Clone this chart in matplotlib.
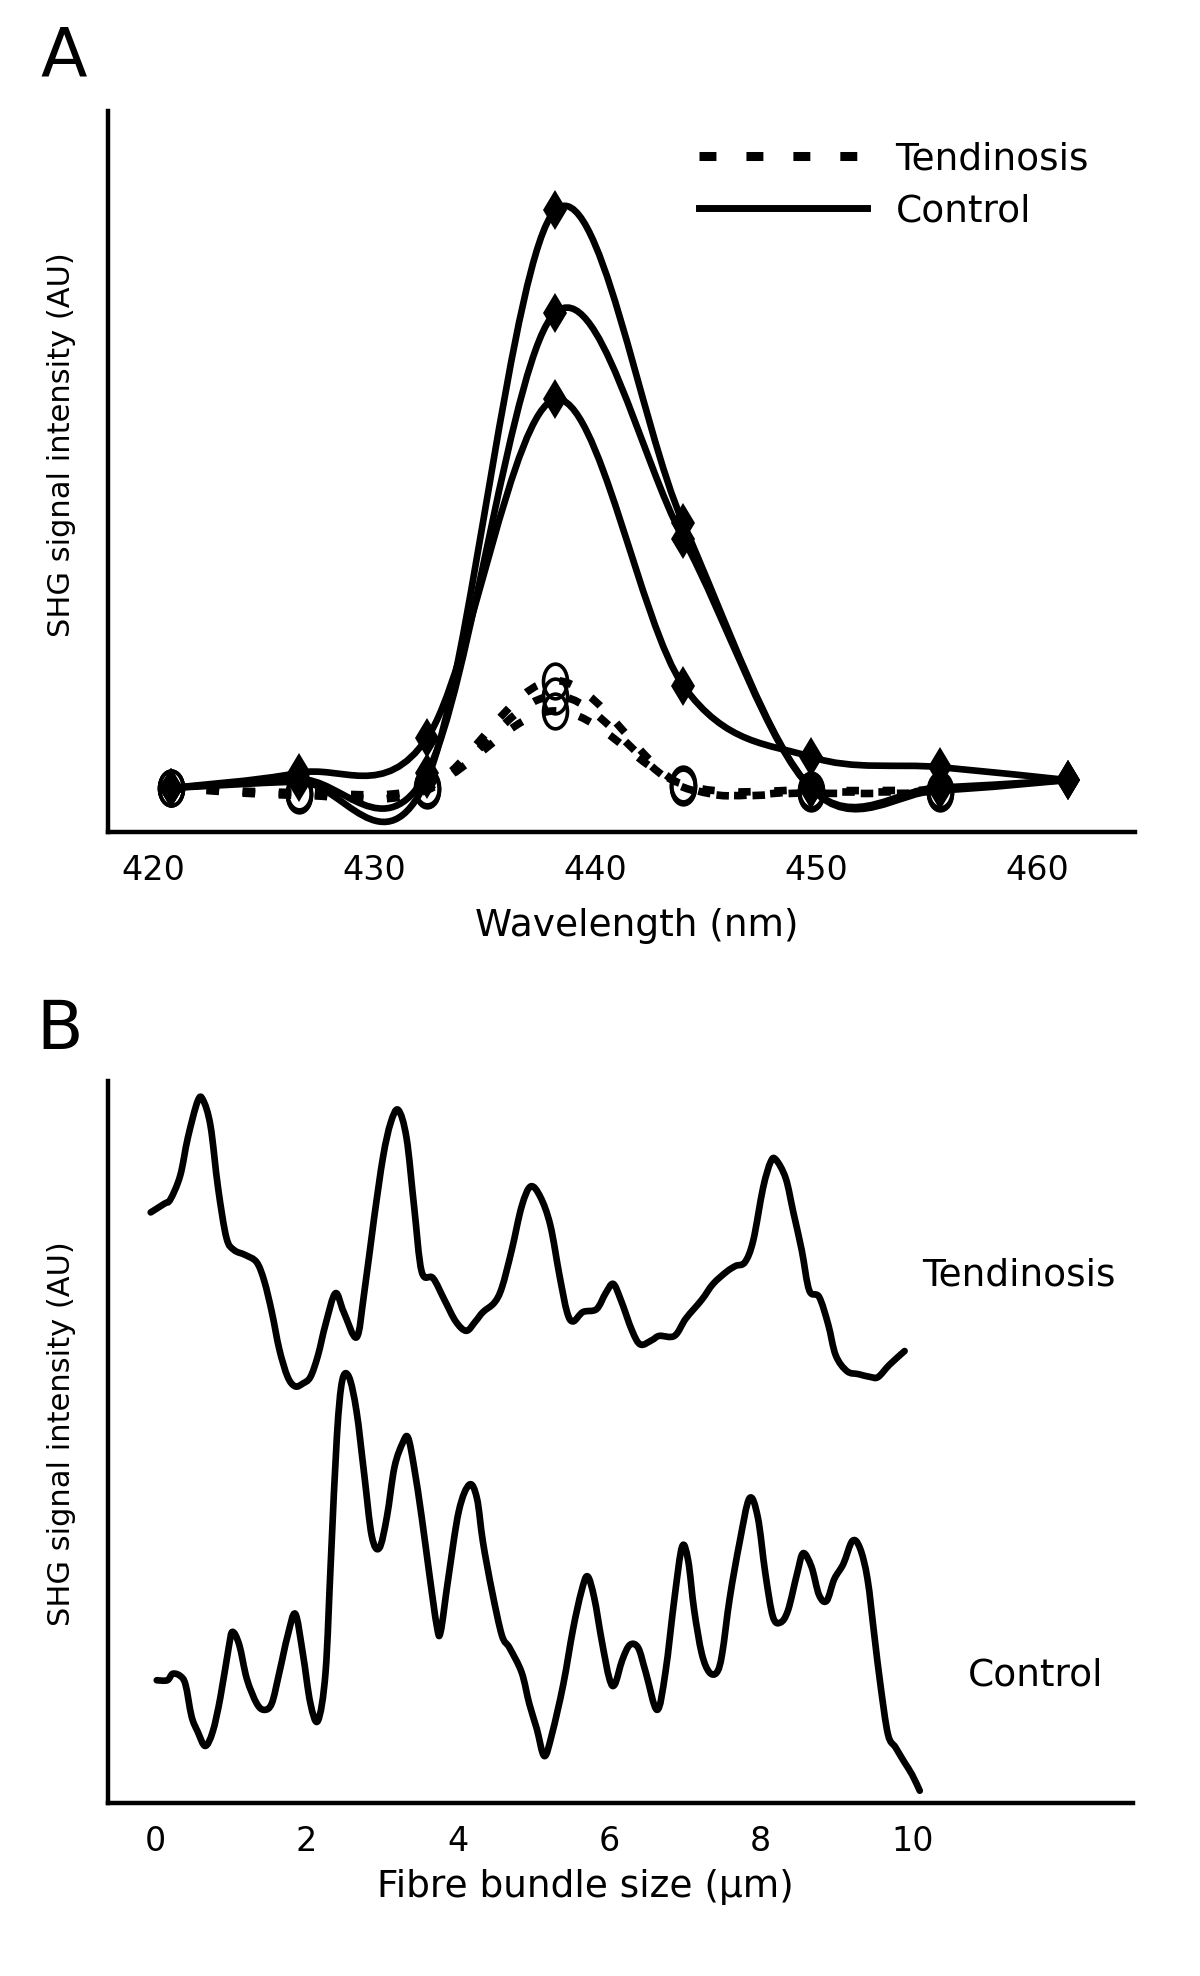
import numpy as np
import matplotlib
matplotlib.use("Agg")
import matplotlib.pyplot as plt
from matplotlib.path import Path
from matplotlib.patches import PathPatch
from matplotlib.lines import Line2D
from matplotlib.transforms import Affine2D

plt.rcParams['font.family'] = ['DejaVu Sans']
plt.rcParams['lines.scale_dashes'] = False

# ---------------- Panel A data ----------------
wavelength = [420.8, 426.6, 432.4, 438.2, 444.0, 449.8, 455.6, 461.4]
control_1 = [6.1, 7.0, 7.3, 86.2, 42.8, 6.0, 5.8, 7.2]
control_2 = [6.1, 7.3, 8.2, 72.0, 40.7, 6.0, 6.2, 7.2]
control_3 = [6.1, 8.2, 13.0, 60.0, 20.3, 10.4, 9.0, 7.2]
tend_wavelength = [420.8, 426.6, 432.4, 438.2, 444.0, 449.8, 455.6]
tendinosis_1 = [6.1, 5.1, 6.0, 21.0, 6.4, 5.6, 5.6]
tendinosis_2 = [6.1, 5.3, 5.8, 18.9, 6.2, 5.4, 5.4]
tendinosis_3 = [6.1, 5.5, 6.2, 16.8, 6.6, 5.8, 5.8]
a_ticks = [420, 430, 440, 450, 460]

# ---------------- Panel B data ----------------
tend_x = [-0.06, 0.12, 0.20, 0.33, 0.43, 0.56, 0.63, 0.73, 0.83, 0.94,
          1.04, 1.19, 1.34, 1.44, 1.54, 1.64, 1.75, 1.85, 1.95, 2.05,
          2.15, 2.25, 2.38, 2.49, 2.66, 2.76, 2.89, 3.01, 3.11, 3.21,
          3.32, 3.42, 3.52, 3.67, 3.82, 3.97, 4.11, 4.23, 4.33, 4.48,
          4.58, 4.71, 4.84, 4.96, 5.09, 5.22, 5.34, 5.44, 5.52, 5.65,
          5.83, 5.95, 6.05, 6.15, 6.30, 6.41, 6.56, 6.66, 6.86, 7.01,
          7.22, 7.37, 7.55, 7.67, 7.79, 7.90, 8.03, 8.13, 8.20, 8.33,
          8.43, 8.54, 8.64, 8.77, 8.89, 8.99, 9.14, 9.29, 9.45, 9.55,
          9.70, 9.90]
tend_y = [81.8, 83.0, 83.6, 86.9, 92.1, 97.2, 97.4, 93.8, 85.2, 78.3,
          76.6, 75.9, 74.9, 72.3, 68.0, 62.8, 59.0, 57.7, 58.1, 59.0,
          62.0, 66.3, 70.6, 68.0, 64.5, 70.6, 80.9, 89.5, 94.2, 96.0,
          92.1, 82.6, 73.6, 72.7, 69.7, 66.7, 65.4, 66.7, 68.0, 69.3,
          71.4, 76.6, 82.6, 85.4, 83.9, 80.0, 73.1, 68.0, 66.7, 68.0,
          68.4, 70.6, 71.9, 69.7, 65.4, 63.5, 64.1, 64.7, 64.7, 67.1,
          69.7, 71.9, 73.6, 74.4, 74.9, 77.9, 85.2, 88.8, 89.1, 86.5,
          81.8, 76.6, 71.0, 70.1, 66.3, 62.0, 59.8, 59.4, 59.0, 59.0,
          60.7, 62.6]
ctrl_x = [0.02, 0.16, 0.23, 0.33, 0.40, 0.48, 0.56, 0.66, 0.76, 0.86,
          0.97, 1.02, 1.11, 1.21, 1.34, 1.44, 1.54, 1.64, 1.75, 1.85,
          1.95, 2.05, 2.15, 2.25, 2.32, 2.40, 2.47, 2.56, 2.66, 2.76,
          2.86, 2.96, 3.06, 3.16, 3.27, 3.34, 3.42, 3.52, 3.62, 3.72,
          3.77, 3.87, 4.01, 4.15, 4.25, 4.33, 4.45, 4.58, 4.68, 4.84,
          4.94, 5.04, 5.14, 5.24, 5.39, 5.52, 5.63, 5.71, 5.80, 5.90,
          6.00, 6.07, 6.17, 6.27, 6.38, 6.48, 6.63, 6.74, 6.86, 6.96,
          7.04, 7.12, 7.22, 7.32, 7.42, 7.49, 7.59, 7.72, 7.85, 7.96,
          8.06, 8.16, 8.26, 8.36, 8.48, 8.56, 8.67, 8.77, 8.87, 8.97,
          9.09, 9.21, 9.31, 9.41, 9.50, 9.58, 9.68, 9.78, 9.90, 10.00,
          10.10]
ctrl_y = [17.0, 17.0, 17.9, 17.6, 16.4, 12.0, 9.9, 7.9, 9.9, 14.6,
          21.5, 23.7, 21.9, 17.2, 13.8, 12.9, 13.8, 18.1, 23.2, 26.2,
          20.7, 13.8, 11.4, 18.1, 33.6, 50.8, 58.5, 59.0, 54.2, 45.6,
          37.0, 35.3, 39.6, 46.5, 49.9, 50.6, 46.5, 39.6, 31.8, 24.5,
          23.7, 31.0, 40.4, 44.1, 42.2, 36.1, 29.3, 23.2, 21.5, 18.1,
          13.8, 10.3, 6.5, 9.5, 16.4, 24.1, 29.3, 31.4, 28.4, 22.4,
          17.2, 16.4, 19.8, 21.9, 21.5, 18.1, 12.9, 18.1, 28.4, 35.5,
          33.6, 26.7, 20.7, 18.1, 18.1, 20.7, 28.4, 36.1, 42.2, 39.6,
          31.8, 25.8, 25.0, 26.7, 31.8, 34.6, 32.7, 28.8, 28.0, 31.0,
          33.1, 36.3, 35.3, 31.0, 23.2, 16.4, 9.5, 7.7, 5.6, 3.9,
          1.7]
b_ticks = [0, 2, 4, 6, 8, 10]


def smooth_path(x, y):
    """Smoothed (Catmull-Rom style) Bezier path through the data points."""
    x = np.asarray(x, float)
    y = np.asarray(y, float)
    n = len(x)
    verts = [(x[0], y[0])]
    codes = [Path.MOVETO]
    for i in range(n - 1):
        i0 = max(i - 1, 0)
        i3 = min(i + 2, n - 1)
        c1 = (x[i] + (x[i + 1] - x[i0]) / 6.0, y[i] + (y[i + 1] - y[i0]) / 6.0)
        c2 = (x[i + 1] - (x[i3] - x[i]) / 6.0, y[i + 1] - (y[i3] - y[i]) / 6.0)
        verts += [c1, c2, (x[i + 1], y[i + 1])]
        codes += [Path.CURVE4] * 3
    return Path(verts, codes)


def style_axes(ax):
    for s in ['top', 'right']:
        ax.spines[s].set_visible(False)
    for s in ['left', 'bottom']:
        ax.spines[s].set_linewidth(3.2)
        ax.spines[s].set_color('black')
    ax.set_yticks([])
    ax.tick_params(axis='x', length=0, labelsize=24, pad=16)


fig = plt.figure(figsize=(12, 19.76), dpi=100)
W, H = 1200.0, 1976.0

# ---------------- Panel A ----------------
axA = fig.add_axes([108 / W, 1 - 832 / H, (1135 - 108) / W, (832 - 111) / H])
style_axes(axA)
axA.set_xlim(417.97, 464.44)
axA.set_ylim(0, 100)
axA.set_xticks(a_ticks)

ellipse = Path.unit_circle().transformed(Affine2D().scale(0.69, 1.0))

for ty in [tendinosis_1, tendinosis_2, tendinosis_3]:
    axA.add_patch(PathPatch(smooth_path(tend_wavelength, ty), fill=False,
                            lw=5.5, edgecolor='black',
                            linestyle=(0, (9, 17)), capstyle='butt', zorder=2))
    axA.plot(tend_wavelength, ty, linestyle='none', marker=ellipse, ms=25,
             mfc='none', mec='black', mew=2.6, zorder=3)

for cy in [control_1, control_2, control_3]:
    axA.add_patch(PathPatch(smooth_path(wavelength, cy), fill=False,
                            lw=4.8, edgecolor='black', capstyle='round',
                            joinstyle='round', zorder=4))
    axA.plot(wavelength, cy, linestyle='none', marker='d', ms=20,
             mfc='black', mec='black', mew=0, zorder=5)

axA.set_xlabel('Wavelength (nm)', fontsize=27, va='center')
axA.xaxis.set_label_coords(0.515, -0.130)
axA.set_ylabel('SHG signal intensity (AU)', fontsize=22, va='center')
axA.yaxis.set_label_coords(-0.045, 0.537)

handles = [Line2D([], [], color='black', lw=6.5, linestyle=(0, (12.2, 21.6)),
                  dash_capstyle='butt'),
           Line2D([], [], color='black', lw=5)]
axA.legend(handles, ['Tendinosis', 'Control'], loc='upper left',
           bbox_to_anchor=(0.575, 0.958), frameon=False, fontsize=27,
           handlelength=4.5, handletextpad=0.75, labelspacing=0.42,
           borderpad=0, borderaxespad=0)

fig.text(40 / W, 1 - 76 / H, 'A', fontsize=49, ha='left', va='baseline')

# ---------------- Panel B ----------------
axB = fig.add_axes([108 / W, 1 - 1803 / H, (1133 - 108) / W, (1803 - 1081) / H])
style_axes(axB)
axB.set_xlim(-0.624, 12.917)
axB.set_ylim(0, 100)
axB.set_xticks(b_ticks)

axB.add_patch(PathPatch(smooth_path(tend_x, tend_y), fill=False, lw=4.8,
                        edgecolor='black', capstyle='round', joinstyle='round'))
axB.add_patch(PathPatch(smooth_path(ctrl_x, ctrl_y), fill=False, lw=4.8,
                        edgecolor='black', capstyle='round', joinstyle='round'))

axB.text(10.13, 71.7, 'Tendinosis', fontsize=27, ha='left', va='baseline')
axB.text(10.74, 16.3, 'Control', fontsize=27, ha='left', va='baseline')

axB.set_xlabel('Fibre bundle size (\u03bcm)', fontsize=27, va='center')
axB.xaxis.set_label_coords(0.466, -0.116)
axB.set_ylabel('SHG signal intensity (AU)', fontsize=22, va='center')
axB.yaxis.set_label_coords(-0.045, 0.511)

fig.text(36 / W, 1 - 1049 / H, 'B', fontsize=49, ha='left', va='baseline')

fig.savefig('out.png', dpi=100, facecolor='white')
